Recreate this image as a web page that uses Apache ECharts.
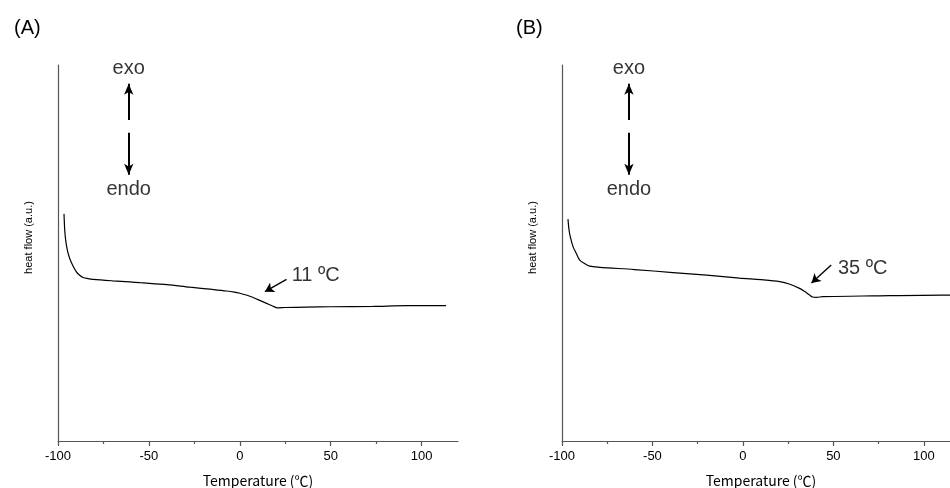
<!DOCTYPE html>
<html>
<head>
<meta charset="utf-8">
<script src="https://cdn.jsdelivr.net/npm/echarts@6/dist/echarts.min.js"></script>
<style>html,body{margin:0;padding:0;background:#fff;}#c{width:950px;height:488px;}</style>
</head>
<body>
<div id="c"></div>
<script>
// Panel A curve (temperature °C, heat flow a.u.)
const tempA = [-96.7,-96.3,-95.8,-94.8,-93.6,-91.8,-89.9,-88.1,-86.2,-83.5,-80.7,-70,-60.5,-55,-40,-27.5,-15,-7.3,-3,0,3,5.5,10,14.7,18,20.9,25,36.7,50,73.4,91.7,113.4];
const flowA = [60.4,56.1,53.5,50.6,48.6,46.6,45.0,44.1,43.5,43.2,43.0,42.6,42.3,42.1,41.6,40.9,40.3,39.9,39.6,39.3,38.9,38.5,37.6,36.6,35.9,35.4,35.5,35.6,35.7,35.8,36.0,36.0];
// Panel B curve
const tempB = [-96.7,-96.2,-95.5,-93.9,-92,-90.2,-87.5,-84.7,-79.2,-60,-38.7,-20,-1.8,10,20.3,26,31.3,34,36.9,38.5,40.6,44.2,71.8,110.5,115];
const flowB = [59.0,56.5,54.5,51.7,49.8,48.1,47.2,46.5,46.2,45.6,44.8,44.1,43.3,42.9,42.4,41.7,40.6,39.8,38.8,38.3,38.2,38.4,38.6,38.8,38.8];

// Axis ticks
const xMin = -100, xMax = 120;
const majorTicks = [-100,-50,0,50,100];
const minorTicks = [-75,-25,25,75];

// Annotations: [text, x, y]
const labelsA = [['exo',-61.1,99.2],['endo',-61.1,66.8]];
const labelsB = [['exo',-63,99.2],['endo',-63,66.8]];
const tempLabelA = ['11 ºC',28.5,43.9];
const tempLabelB = ['35 ºC',52.5,46.0];
// arrows: [x1,y1,x2,y2] (tail -> tip)
const dirArrowsA = [[-61.1,85.4,-61.1,95.0],[-61.1,82.0,-61.1,70.8]];
const dirArrowsB = [[-63,85.4,-63,95.0],[-63,82.0,-63,70.8]];
const tempArrowA = [25.7,43.0,13.8,39.7];
const tempArrowB = [48.8,46.8,37.9,42.0];

const FONT = '"Liberation Sans", Arial, sans-serif';
const AXC = '#555';

function zip(a,b){return a.map((v,i)=>[v,b[i]]);}
function arrowData(list){return list.map(a=>[{coord:[a[0],a[1]]},{coord:[a[2],a[3]]}]);}

function grids(){
  return [
    {left:58, top:65, width:400, height:376, outerBoundsMode:'none', containLabel:false},
    {left:562, top:65, width:398, height:376, outerBoundsMode:'none', containLabel:false}
  ];
}
function xAxes(){
  const out=[];
  [0,1].forEach(g=>{
    out.push({type:'value',gridIndex:g,min:xMin,max:xMax,position:'bottom',
      name:'Temperature (℃)',nameLocation:'middle',nameGap:33,
      nameTextStyle:{fontFamily:'"Noto Sans CJK JP", sans-serif',fontSize:14,color:'#000'},
      axisLine:{show:true,onZero:false,lineStyle:{color:AXC,width:1.2}},
      axisTick:{show:true,inside:false,length:5,customValues:majorTicks,lineStyle:{color:AXC,width:1.2}},
      axisLabel:{show:true,customValues:majorTicks,margin:9,fontFamily:FONT,fontSize:13,color:'#000'},
      splitLine:{show:false}});
  });
  [0,1].forEach(g=>{
    out.push({type:'value',gridIndex:g,min:xMin,max:xMax,position:'bottom',
      axisLine:{show:false,onZero:false},
      axisTick:{show:true,length:3,customValues:minorTicks,lineStyle:{color:AXC,width:1.2}},
      axisLabel:{show:false},splitLine:{show:false}});
  });
  return out;
}
function yAxes(){
  return [0,1].map(g=>({type:'value',gridIndex:g,min:0,max:100,
    name:'heat flow (a.u.)',nameLocation:'middle',nameGap:24,
    nameTextStyle:{fontFamily:FONT,fontSize:11,color:'#000',padding:[0,0,0,31]},
    axisLine:{show:true,onZero:false,lineStyle:{color:AXC,width:1.2}},
    axisTick:{show:false},axisLabel:{show:false},splitLine:{show:false}}));
}

function panelSeries(g, temp, flow, dirArrows, tempArrow, labels, tempLabel){
  return [
    {type:'line',xAxisIndex:g,yAxisIndex:g,data:zip(temp,flow),showSymbol:false,smooth:0.3,
     lineStyle:{color:'#000',width:1.2},silent:true,
     markLine:{silent:true,symbol:['none','arrow'],symbolSize:[7,11],label:{show:false},
       lineStyle:{color:'#000',width:2,type:'solid'},emphasis:{disabled:true},
       data:arrowData(dirArrows)}},
    {type:'line',xAxisIndex:g,yAxisIndex:g,data:[],
     markLine:{silent:true,symbol:['none','arrow'],symbolSize:[8,9],label:{show:false},
       lineStyle:{color:'#000',width:1.4,type:'solid'},emphasis:{disabled:true},
       data:arrowData([tempArrow])}},
    {type:'scatter',xAxisIndex:g,yAxisIndex:g,symbolSize:0,silent:true,
     data:labels.map(l=>({name:l[0],value:[l[1],l[2]]})),
     label:{show:true,position:'inside',formatter:'{b}',fontFamily:FONT,fontSize:20,color:'#000'}},
    {type:'scatter',xAxisIndex:g,yAxisIndex:g,symbolSize:0,silent:true,
     data:[{name:tempLabel[0],value:[tempLabel[1],tempLabel[2]]}],
     label:{show:true,position:'right',distance:0,formatter:'{b}',fontFamily:FONT,fontSize:20,color:'#000'}}
  ];
}

const chart = echarts.init(document.getElementById('c'),null,{renderer:'canvas'});
chart.setOption({
  animation:false,
  backgroundColor:'#fff',
  title:[
    {text:'(A)',left:9,top:13,textStyle:{fontFamily:FONT,fontSize:20,fontWeight:'normal',color:'#000'}},
    {text:'(B)',left:511,top:13,textStyle:{fontFamily:FONT,fontSize:20,fontWeight:'normal',color:'#000'}}
  ],
  grid:grids(),
  xAxis:xAxes(),
  yAxis:yAxes(),
  series:[].concat(
    panelSeries(0,tempA,flowA,dirArrowsA,tempArrowA,labelsA,tempLabelA),
    panelSeries(1,tempB,flowB,dirArrowsB,tempArrowB,labelsB,tempLabelB)
  )
});
</script>
</body>
</html>
